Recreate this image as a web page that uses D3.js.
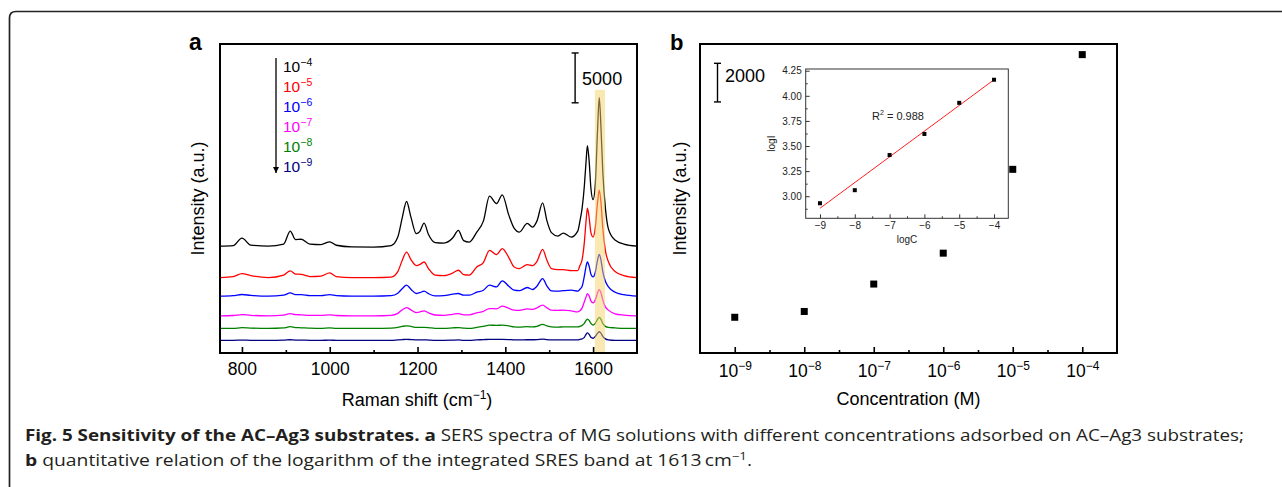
<!DOCTYPE html>
<html>
<head>
<meta charset="utf-8">
<script src="https://cdn.jsdelivr.net/npm/d3@7"></script>
<style>
    body { margin: 0; background: #fff; }
    svg { display: block; font-family: "Liberation Sans", Arial, sans-serif; }
</style>
</head>
<body>
<svg></svg>
<script>
let width = 1282;
let height = 487;

// ---- panel a : SERS spectra ----
let ramanShift = [750, 780, 800, 820, 860, 895, 910, 922, 935, 955, 980, 1000, 1015, 1050, 1100,
    1140, 1155, 1165, 1175, 1185, 1197, 1205, 1215, 1225, 1240, 1260, 1280, 1293, 1305, 1318,
    1335, 1350, 1364, 1380, 1393, 1408, 1420, 1432, 1450, 1462, 1472, 1485, 1495, 1505, 1520,
    1532, 1550, 1565, 1570, 1575, 1580, 1584, 1587, 1591, 1595, 1600, 1605, 1610, 1614, 1618,
    1622, 1628, 1635, 1650, 1670, 1700];

let spec1e4 = [0, 50, 800, 100, 0, 200, 1500, 650, 680, 200, 150, 420, 80, -80, -100,
    50, 900, 2800, 4470, 2900, 1250, 1450, 2300, 1150, 350, 300, 800, 1570, 550, 400,
    1400, 2500, 5000, 4270, 5140, 3100, 1800, 1400, 2270, 1900, 2500, 4340, 2500, 1350, 1000,
    1300, 900, 1500, 2500, 3800, 6000, 8500, 10070, 8500, 5800, 4650, 6200, 11500, 14900, 11800,
    7500, 3800, 1700, 600, 200, 0];
let spec1e5 = [0, 100, 400, 200, 0, 250, 670, 350, 320, 100, 150, 460, 100, 0, 0,
    50, 600, 1700, 2560, 1800, 1200, 1300, 1560, 900, 250, 200, 450, 730, 300, 250,
    1060, 1500, 2730, 2300, 2900, 2000, 1060, 900, 1300, 1200, 1600, 2830, 1700, 900, 800,
    800, 700, 700, 1200, 1800, 3500, 5700, 6960, 6000, 4500, 4060, 5000, 7500, 8770, 7500,
    5000, 2700, 1560, 600, 200, 0];
let spec1e6 = [0, 50, 170, 80, 0, 100, 330, 150, 150, 50, 50, 150, 50, 0, 0,
    50, 300, 750, 1100, 700, 270, 350, 500, 250, 30, 50, 200, 270, 100, 100,
    400, 600, 1100, 930, 1530, 1000, 600, 550, 870, 670, 1000, 1770, 1000, 530, 500,
    550, 600, 500, 700, 1000, 2000, 3000, 3430, 3000, 2200, 1930, 2400, 3600, 4200, 3600,
    2500, 1500, 930, 400, 150, 0];
let spec1e7 = [0, 30, 130, 50, 0, 80, 230, 120, 100, 50, 50, 100, 30, 0, 0,
    50, 250, 600, 830, 600, 330, 380, 500, 300, 80, 50, 150, 230, 100, 100,
    300, 450, 730, 700, 970, 750, 570, 550, 700, 650, 800, 1070, 800, 570, 550,
    570, 500, 400, 500, 800, 1400, 1900, 2230, 2000, 1500, 1300, 1600, 2300, 2630, 2300,
    1600, 900, 570, 200, 70, 0];
let spec1e8 = [0, 0, 70, 30, 0, 50, 170, 80, 60, 20, 0, 50, 0, 0, 0,
    30, 100, 200, 260, 200, 100, 100, 100, 80, 0, 0, 50, 80, 30, 0,
    100, 200, 330, 300, 330, 250, 150, 130, 170, 150, 200, 400, 250, 150, 130,
    150, 150, 150, 200, 300, 500, 800, 930, 800, 500, 330, 500, 900, 1100, 900,
    500, 200, 100, 50, 0, 0];
let spec1e9 = [0, 0, 30, 0, 0, 20, 60, 30, 30, 0, 0, 20, 0, 0, 0,
    0, 50, 80, 100, 80, 40, 40, 50, 30, 0, 0, 20, 40, 0, 0,
    50, 70, 100, 90, 100, 80, 50, 50, 60, 60, 80, 130, 80, 50, 40,
    50, 50, 50, 100, 150, 300, 600, 750, 600, 300, 200, 400, 700, 860, 700,
    400, 150, 50, 0, 0, 0];

let spectra = [spec1e4, spec1e5, spec1e6, spec1e7, spec1e8, spec1e9];
let offsets = [10730, 7570, 5700, 3730, 2470, 1270]; // vertical stacking of the curves
let concLabels = ["\u22124", "\u22125", "\u22126", "\u22127", "\u22128", "\u22129"];
let lineColors = ["#000000", "#ff0000", "#0000ff", "#ff00ff", "#008000", "#000080"];
let ramanTicks = [800, 1000, 1200, 1400, 1600];
let highlightBand = [1604, 1627];
let highlightTop = 26400;
let scaleBarA = {x: 1559, top: 30100, value: 5000};

// ---- panel b : intensity vs concentration ----
let concExp = [-9, -8, -7, -6, -5, -4];
let intensity = [850, 1150, 2570, 4170, 8510, 14450];
let logI = [2.93, 3.06, 3.41, 3.62, 3.93, 4.16];
let logITicks = [3.0, 3.25, 3.5, 3.75, 4.0, 4.25];
let fitX = [-9, -4];
let fitY = [2.88, 4.16];
let rSquared = "0.988";
let scaleBarB = {top: 14000, value: 2000};

let svg = d3.select("svg")
    .attr("width", width)
    .attr("height", height);

// outer rounded frame of the figure
svg.append("path")
    .attr("d", "M9.5,490 L9.5,18 Q9.5,11.5 16,11.5 L1290,11.5")
    .attr("fill", "none")
    .attr("stroke", "#222")
    .attr("stroke-width", 1.7);

drawPanelA();
drawPanelB();
drawCaption();

function supLabel(text, base, sup, supSize, rise) {
    text.append("tspan").text(base);
    text.append("tspan")
        .attr("font-size", supSize)
        .attr("dy", -rise)
        .text(sup);
}

function scaleBar(x, yTop, yBot) {
    let bar = svg.append("g").attr("stroke", "#000").attr("stroke-width", 1.4);
    bar.append("line").attr("x1", x).attr("x2", x).attr("y1", yTop).attr("y2", yBot);
    bar.append("line").attr("x1", x - 3.5).attr("x2", x + 3.5).attr("y1", yTop).attr("y2", yTop);
    bar.append("line").attr("x1", x - 3.5).attr("x2", x + 3.5).attr("y1", yBot).attr("y2", yBot);
}

function drawPanelA() {
    let left = 220, right = 637, top = 44, bottom = 353;

    let scaleX = d3.scaleLinear().domain([750, 1700]).range([left, right]);
    let scaleY = d3.scaleLinear().domain([0, 31000]).range([bottom, top]);

    svg.append("defs").append("clipPath")
        .attr("id", "clipA")
        .append("rect")
        .attr("x", left).attr("y", top)
        .attr("width", right - left).attr("height", bottom - top);

    let line = d3.line()
        .x(d => scaleX(d.x))
        .y(d => scaleY(d.y))
        .curve(d3.curveMonotoneX);

    let g = svg.append("g").attr("clip-path", "url(#clipA)");
    spectra.forEach(function (s, k) {
        let pts = ramanShift.map((x, i) => ({x: x, y: s[i] + offsets[k]}));
        g.append("path")
            .datum(pts)
            .attr("d", line)
            .attr("fill", "none")
            .attr("stroke", lineColors[k])
            .attr("stroke-width", 1.3)
            .attr("stroke-linejoin", "round");
    });

    // yellow band on 1613 cm-1, drawn over the curves
    g.append("rect")
        .attr("x", scaleX(highlightBand[0]))
        .attr("width", scaleX(highlightBand[1]) - scaleX(highlightBand[0]))
        .attr("y", scaleY(highlightTop))
        .attr("height", scaleY(0) - scaleY(highlightTop))
        .attr("fill", "#f5d265")
        .attr("opacity", 0.5);

    // axes
    let axisX = d3.axisBottom(scaleX)
        .tickValues(ramanTicks)
        .tickFormat(d3.format("d"))
        .tickSizeInner(-6).tickSizeOuter(0).tickPadding(10);
    let gx = svg.append("g")
        .attr("transform", `translate(0, ${bottom})`)
        .call(axisX);
    gx.select(".domain").remove();
    gx.selectAll("line").attr("stroke", "#000").attr("stroke-width", 1.6);
    gx.selectAll("text").attr("font-size", 17.5).attr("fill", "#000");

    let minorX = svg.append("g")
        .attr("transform", `translate(0, ${bottom})`)
        .call(d3.axisBottom(scaleX).tickValues([900, 1100, 1300, 1500]).tickSize(-3).tickFormat(""));
    minorX.select(".domain").remove();
    minorX.selectAll("line").attr("stroke", "#000").attr("stroke-width", 1.6);

    svg.append("rect")
        .attr("x", left).attr("y", top)
        .attr("width", right - left).attr("height", bottom - top)
        .attr("fill", "none")
        .attr("stroke", "#000")
        .attr("stroke-width", 2);

    svg.append("text")
        .attr("x", 417).attr("y", 406)
        .attr("text-anchor", "middle")
        .attr("font-size", 18)
        .call(t => {
            t.append("tspan").text("Raman shift (cm");
            t.append("tspan").attr("font-size", 12).attr("dy", -7).text("\u22121");
            t.append("tspan").attr("dy", 7).text(")");
        });

    svg.append("text")
        .attr("transform", `translate(204, ${(top + bottom) / 2}) rotate(-90)`)
        .attr("text-anchor", "middle")
        .attr("font-size", 18)
        .text("Intensity (a.u.)");

    svg.append("text")
        .attr("x", 189).attr("y", 50)
        .attr("font-size", 23).attr("font-weight", "bold")
        .text("a");

    // legend arrow + labels
    svg.append("defs").append("marker")
        .attr("id", "arrowHead")
        .attr("viewBox", "0 0 10 10")
        .attr("refX", 10).attr("refY", 5)
        .attr("markerWidth", 6).attr("markerHeight", 6)
        .attr("markerUnits", "userSpaceOnUse")
        .attr("orient", "auto")
        .append("path")
        .attr("d", "M0,0 L10,5 L0,10 Z")
        .attr("fill", "#000");

    svg.append("line")
        .attr("x1", 276).attr("y1", 58)
        .attr("x2", 276).attr("y2", 173)
        .attr("stroke", "#000").attr("stroke-width", 1.3)
        .attr("marker-end", "url(#arrowHead)");

    concLabels.forEach(function (c, i) {
        svg.append("text")
            .attr("x", 283).attr("y", 72 + i * 20)
            .attr("font-size", 15.5)
            .attr("fill", lineColors[i])
            .call(t => supLabel(t, "10", c, 10.5, 6));
    });

    // 5000 scale bar
    let xb = scaleX(scaleBarA.x);
    scaleBar(xb, scaleY(scaleBarA.top), scaleY(scaleBarA.top - scaleBarA.value));
    svg.append("text")
        .attr("x", xb + 7).attr("y", 85)
        .attr("font-size", 18)
        .text(scaleBarA.value);
}

function drawPanelB() {
    let left = 700, right = 1117, top = 44, bottom = 353;

    let scaleX = d3.scaleLog()
        .domain([Math.pow(10, -9.5), Math.pow(10, -3.5)])
        .range([left, right]);
    let scaleY = d3.scaleLinear().domain([-1000, 15000]).range([bottom, top]);

    let major = concExp.map(e => Math.pow(10, e));
    let minor = concExp.slice(0, 5).map(e => Math.pow(10, e + 0.5));

    let gx = svg.append("g")
        .attr("transform", `translate(0, ${bottom})`)
        .call(d3.axisBottom(scaleX).tickValues(major).tickSizeInner(-6).tickSizeOuter(0).tickFormat(""));
    gx.select(".domain").remove();
    gx.selectAll("line").attr("stroke", "#000").attr("stroke-width", 1.6);
    gx.selectAll("g.tick")
        .append("text")
        .attr("y", 24)
        .attr("fill", "#000")
        .attr("font-size", 17.5)
        .attr("text-anchor", "middle")
        .each(function (d, i) {
            supLabel(d3.select(this), "10", "\u2212" + Math.abs(concExp[i]), 12, 7);
        });

    let mx = svg.append("g")
        .attr("transform", `translate(0, ${bottom})`)
        .call(d3.axisBottom(scaleX).tickValues(minor).tickSize(-3).tickFormat(""));
    mx.select(".domain").remove();
    mx.selectAll("line").attr("stroke", "#000").attr("stroke-width", 1.6);

    svg.append("rect")
        .attr("x", left).attr("y", top)
        .attr("width", right - left).attr("height", bottom - top)
        .attr("fill", "none")
        .attr("stroke", "#000")
        .attr("stroke-width", 2);

    // data squares
    svg.append("g")
        .selectAll("rect")
        .data(concExp)
        .enter()
        .append("rect")
        .attr("x", d => scaleX(Math.pow(10, d)) - 3.5)
        .attr("y", (d, i) => scaleY(intensity[i]) - 3.5)
        .attr("width", 7).attr("height", 7)
        .attr("fill", "#000");

    svg.append("text")
        .attr("x", (left + right) / 2).attr("y", 405)
        .attr("text-anchor", "middle")
        .attr("font-size", 18)
        .text("Concentration (M)");

    svg.append("text")
        .attr("transform", `translate(686, ${(top + bottom) / 2}) rotate(-90)`)
        .attr("text-anchor", "middle")
        .attr("font-size", 18)
        .text("Intensity (a.u.)");

    svg.append("text")
        .attr("x", 670).attr("y", 50)
        .attr("font-size", 22).attr("font-weight", "bold")
        .text("b");

    // 2000 scale bar
    scaleBar(717.5, scaleY(scaleBarB.top), scaleY(scaleBarB.top - scaleBarB.value));
    svg.append("text")
        .attr("x", 725).attr("y", 82)
        .attr("font-size", 18)
        .text(scaleBarB.value);

    drawInset();
}

function drawInset() {
    let left = 805.7, right = 1008.3, top = 69, bottom = 218.3;
    let scaleX = d3.scaleLinear().domain([-9.41, -3.59]).range([left, right]);
    let scaleY = d3.scaleLinear().domain([2.78, 4.267]).range([bottom, top]);
    let ink = "#333";

    let gx = svg.append("g")
        .attr("transform", `translate(0, ${bottom})`)
        .call(d3.axisBottom(scaleX).tickValues(concExp).tickFormat(d3.format("d"))
            .tickSizeInner(-4).tickSizeOuter(0).tickPadding(4));
    gx.select(".domain").remove();
    gx.selectAll("line").attr("stroke", ink);
    gx.selectAll("text").attr("font-size", 10).attr("fill", "#222");

    let gxm = svg.append("g")
        .attr("transform", `translate(0, ${bottom})`)
        .call(d3.axisBottom(scaleX).tickValues([-8.5, -7.5, -6.5, -5.5, -4.5]).tickSize(-2).tickFormat(""));
    gxm.select(".domain").remove();
    gxm.selectAll("line").attr("stroke", ink);

    let gy = svg.append("g")
        .attr("transform", `translate(${left}, 0)`)
        .call(d3.axisLeft(scaleY).tickValues(logITicks)
            .tickFormat(d3.format(".2f")).tickSizeInner(-4).tickSizeOuter(0).tickPadding(4));
    gy.select(".domain").remove();
    gy.selectAll("line").attr("stroke", ink);
    gy.selectAll("text").attr("font-size", 10).attr("fill", "#222");

    let gym = svg.append("g")
        .attr("transform", `translate(${left}, 0)`)
        .call(d3.axisLeft(scaleY).tickValues([2.875, 3.125, 3.375, 3.625, 3.875, 4.125]).tickSize(-2).tickFormat(""));
    gym.select(".domain").remove();
    gym.selectAll("line").attr("stroke", ink);

    svg.append("rect")
        .attr("x", left).attr("y", top)
        .attr("width", right - left).attr("height", bottom - top)
        .attr("fill", "none")
        .attr("stroke", ink)
        .attr("stroke-width", 1);

    svg.append("line")
        .attr("x1", scaleX(fitX[0])).attr("y1", scaleY(fitY[0]))
        .attr("x2", scaleX(fitX[1])).attr("y2", scaleY(fitY[1]))
        .attr("stroke", "#ff2020")
        .attr("stroke-width", 1);

    svg.append("g")
        .selectAll("rect")
        .data(concExp)
        .enter()
        .append("rect")
        .attr("x", d => scaleX(d) - 2)
        .attr("y", (d, i) => scaleY(logI[i]) - 2)
        .attr("width", 4).attr("height", 4)
        .attr("fill", "#000");

    svg.append("text")
        .attr("x", 872).attr("y", 120)
        .attr("font-size", 11).attr("fill", "#222")
        .call(t => {
            t.append("tspan").text("R");
            t.append("tspan").attr("font-size", 7).attr("dy", -5).text("2");
            t.append("tspan").attr("dy", 5).text(" = " + rSquared);
        });

    svg.append("text")
        .attr("x", (left + right) / 2).attr("y", 243)
        .attr("text-anchor", "middle")
        .attr("font-size", 10).attr("fill", "#222")
        .text("logC");

    svg.append("text")
        .attr("transform", `translate(775, ${(top + bottom) / 2}) rotate(-90)`)
        .attr("text-anchor", "middle")
        .attr("font-size", 10).attr("fill", "#222")
        .text("logI");
}

function drawCaption() {
    let cap = svg.append("g")
        .attr("font-family", "'Open Sans', 'Noto Sans', sans-serif")
        .attr("font-size", 16)
        .attr("fill", "#231f20");

    cap.append("text")
        .attr("x", 25).attr("y", 441)
        .attr("textLength", 1219)
        .attr("lengthAdjust", "spacingAndGlyphs")
        .call(t => {
            t.append("tspan").attr("font-weight", "bold").text("Fig. 5 Sensitivity of the AC\u2013Ag3 substrates. a");
            t.append("tspan").text(" SERS spectra of MG solutions with different concentrations adsorbed on AC\u2013Ag3 substrates;");
        });

    cap.append("text")
        .attr("x", 25).attr("y", 466)
        .attr("textLength", 727)
        .attr("lengthAdjust", "spacingAndGlyphs")
        .call(t => {
            t.append("tspan").attr("font-weight", "bold").text("b");
            t.append("tspan").text(" quantitative relation of the logarithm of the integrated SRES band at 1613\u2009cm");
            t.append("tspan").attr("font-size", 11).attr("dy", -6).text("\u22121");
            t.append("tspan").attr("dy", 6).text(".");
        });
}
</script>
</body>
</html>
